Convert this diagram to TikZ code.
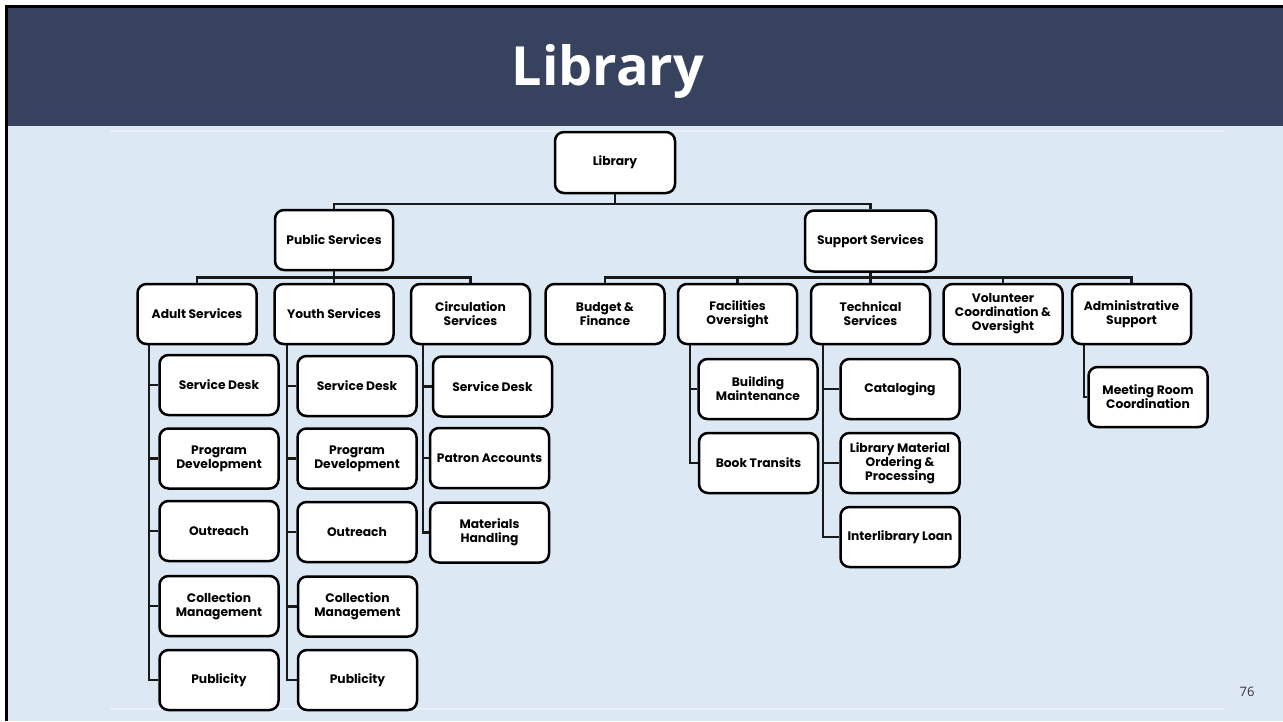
\documentclass[tikz,border=0pt]{standalone}
\usepackage{fontspec}
\setmainfont{Poppins}
\newfontfamily\titlefont{Open Sans}
\newfontfamily\numfont{Open Sans}
\definecolor{barcol}{RGB}{55,66,94}
\definecolor{bgcol}{RGB}{220,232,244}
\definecolor{faint}{RGB}{232,240,249}
\begin{document}
\begin{tikzpicture}[x=1pt,y=-1pt,
  box/.style={draw=black, line width=2.5pt, rounded corners=9pt, fill=white,
    minimum width=119pt, minimum height=60pt, inner sep=1pt, align=center,
    font=\fontsize{12.3}{14}\selectfont\bfseries},
  conn/.style={line width=2.2pt, draw=black!90, line join=miter}]
\useasboundingbox (0,0) rectangle (1283,721);
\fill[white] (0,0) rectangle (1283,721);
\fill[bgcol] (8,126) rectangle (1283,721);
\fill[barcol] (8,7) rectangle (1283,126);
\fill[black] (5,5) rectangle (1283,7.5);
\fill[black] (5,5) rectangle (8,721);
\draw[faint, line width=2pt] (110,131) -- (1225,131);
\draw[faint, line width=1.5pt] (110,709) -- (1225,709);
\node[anchor=base, text=white, font=\fontsize{54}{58}\selectfont\titlefont\bfseries] (title) at (608,85) {Library};
\node[anchor=base, text=black!80, font=\fontsize{13}{14}\selectfont\numfont] (pnum) at (1247,696) {76};

% level 0/1
\node[box, minimum width=120pt, minimum height=61pt] (lib) at (615,162.5) {Library};
\node[box, minimum width=118pt] (pub) at (334,240) {Public Services};
\node[box, minimum width=131pt, minimum height=61pt] (sup) at (870.5,241) {Support Services};
% level 2
\node[box] (adult) at (197,314) {Adult Services};
\node[box] (youth) at (334,314) {Youth Services};
\node[box] (circ) at (470.5,314) {Circulation\\Services};
\node[box] (budget) at (605,314) {Budget \&\\Finance};
\node[box] (fac) at (737.5,314) {Facilities\\Oversight};
\node[box] (tech) at (870.5,314) {Technical\\Services};
\node[box] (vol) at (1003,314) {Volunteer\\Coordination \&\\Oversight};
\node[box] (admin) at (1131.5,314) {Administrative\\Support};
% adult children
\node[box] (a1) at (219,385) {Service Desk};
\node[box] (a2) at (219,458.5) {Program\\Development};
\node[box] (a3) at (219,531) {Outreach};
\node[box] (a4) at (219,606) {Collection\\Management};
\node[box] (a5) at (219,680) {Publicity};
% youth children
\node[box] (y1) at (357,386) {Service Desk};
\node[box] (y2) at (357,458.5) {Program\\Development};
\node[box] (y3) at (357,532) {Outreach};
\node[box] (y4) at (357.5,606.5) {Collection\\Management};
\node[box] (y5) at (357.5,680) {Publicity};
% circulation children
\node[box] (c1) at (492.5,386.5) {Service Desk};
\node[box] (c2) at (489.5,458) {Patron Accounts};
\node[box] (c3) at (489.5,532.5) {Materials\\Handling};
% facilities children
\node[box] (f1) at (758,389) {Building\\Maintenance};
\node[box] (f2) at (758.5,463) {Book Transits};
% technical children
\node[box] (t1) at (900,389) {Cataloging};
\node[box] (t2) at (900,463) {Library Material\\Ordering \&\\Processing};
\node[box] (t3) at (900,537) {Interlibrary Loan};
% admin children
\node[box] (m1) at (1148,397) {Meeting Room\\Coordination};

% bars
\coordinate (b0) at (0,204);
\coordinate (b1) at (0,277.5);
\draw[conn] (lib.south) -- (lib.south |- b0);
\draw[conn] (pub.north) -- (pub.north |- b0) -- (sup.north |- b0) -- (sup.north);
\draw[conn] (pub.south) -- (pub.south |- b1);
\draw[conn] (adult.north) -- (adult.north |- b1) -- (circ.north |- b1) -- (circ.north);
\draw[conn] (youth.north) -- (youth.north |- b1);
\draw[conn] (sup.south) -- (sup.south |- b1);
\draw[conn] (budget.north) -- (budget.north |- b1) -- (admin.north |- b1) -- (admin.north);
\draw[conn] (fac.north) -- (fac.north |- b1);
\draw[conn] (tech.north) -- (tech.north |- b1);
\draw[conn] (vol.north) -- (vol.north |- b1);

% spines
\coordinate (va) at (149,0);
\coordinate (vy) at (287,0);
\coordinate (vc) at (423,0);
\coordinate (vf) at (690,0);
\coordinate (vt) at (823,0);
\coordinate (vm) at (1084,0);
\draw[conn] (va |- adult.south) -- (va |- a5.west) -- (a5.west);
\foreach \n in {a1,a2,a3,a4} \draw[conn] (va |- \n.west) -- (\n.west);
\draw[conn] (vy |- youth.south) -- (vy |- y5.west) -- (y5.west);
\foreach \n in {y1,y2,y3,y4} \draw[conn] (vy |- \n.west) -- (\n.west);
\draw[conn] (vc |- circ.south) -- (vc |- c3.west) -- (c3.west);
\foreach \n in {c1,c2} \draw[conn] (vc |- \n.west) -- (\n.west);
\draw[conn] (vf |- fac.south) -- (vf |- f2.west) -- (f2.west);
\draw[conn] (vf |- f1.west) -- (f1.west);
\draw[conn] (vt |- tech.south) -- (vt |- t3.west) -- (t3.west);
\foreach \n in {t1,t2} \draw[conn] (vt |- \n.west) -- (\n.west);
\draw[conn] (vm |- admin.south) -- (vm |- m1.west) -- (m1.west);
\end{tikzpicture}
\end{document}
